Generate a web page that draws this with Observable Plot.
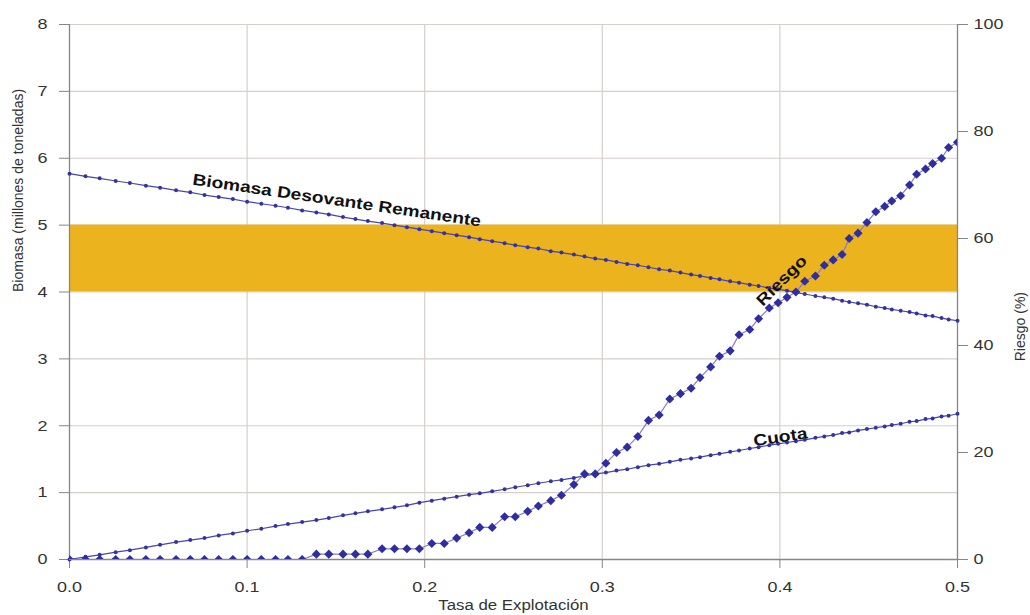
<!DOCTYPE html>
<html>
<head>
<meta charset="utf-8">
<script src="https://cdn.jsdelivr.net/npm/d3@7"></script>
<script src="https://cdn.jsdelivr.net/npm/@observablehq/plot@0.6"></script>
<style>
html, body { margin: 0; padding: 0; background: #ffffff; }
#chart { width: 1030px; height: 615px; }
</style>
</head>
<body>
<div id="chart"></div>
<script>
// Tasa de explotación (eje X)
const tasa = [0, 0.009, 0.017, 0.026, 0.034, 0.043, 0.051, 0.060, 0.068, 0.076,
  0.084, 0.092, 0.100, 0.108, 0.116, 0.123, 0.131, 0.139, 0.146, 0.154,
  0.161, 0.168, 0.176, 0.183, 0.190, 0.197, 0.204, 0.211, 0.218, 0.225,
  0.231, 0.238, 0.245, 0.251, 0.258, 0.264, 0.271, 0.277, 0.284, 0.290,
  0.296, 0.302, 0.308, 0.314, 0.320, 0.326, 0.332, 0.338, 0.344, 0.350,
  0.355, 0.361, 0.366, 0.372, 0.377, 0.383, 0.388, 0.394, 0.399, 0.404,
  0.409, 0.414, 0.420, 0.425, 0.430, 0.435, 0.439, 0.444, 0.449, 0.454,
  0.459, 0.463, 0.468, 0.473, 0.477, 0.482, 0.486, 0.491, 0.495, 0.500];
// Biomasa desovante remanente (millones de t)
const biomasa = [5.77, 5.73, 5.70, 5.66, 5.63, 5.59, 5.56, 5.52, 5.49, 5.45,
  5.42, 5.39, 5.35, 5.32, 5.29, 5.26, 5.22, 5.19, 5.16, 5.12,
  5.09, 5.06, 5.03, 5.00, 4.97, 4.94, 4.91, 4.88, 4.85, 4.82,
  4.79, 4.76, 4.73, 4.70, 4.67, 4.65, 4.61, 4.59, 4.56, 4.53,
  4.50, 4.48, 4.45, 4.42, 4.40, 4.37, 4.34, 4.32, 4.29, 4.26,
  4.24, 4.21, 4.19, 4.16, 4.14, 4.11, 4.09, 4.06, 4.04, 4.02,
  3.99, 3.97, 3.94, 3.92, 3.90, 3.87, 3.85, 3.83, 3.81, 3.78,
  3.76, 3.74, 3.72, 3.70, 3.68, 3.65, 3.64, 3.61, 3.59, 3.57];
// Cuota (millones de t)
const cuota = [0, 0.04, 0.07, 0.11, 0.14, 0.18, 0.22, 0.26, 0.29, 0.32,
  0.36, 0.39, 0.43, 0.46, 0.50, 0.53, 0.56, 0.59, 0.62, 0.66,
  0.69, 0.72, 0.75, 0.78, 0.81, 0.85, 0.88, 0.91, 0.94, 0.97,
  0.99, 1.02, 1.05, 1.08, 1.11, 1.14, 1.17, 1.19, 1.22, 1.25,
  1.28, 1.30, 1.33, 1.35, 1.38, 1.41, 1.43, 1.46, 1.49, 1.51,
  1.53, 1.56, 1.58, 1.61, 1.63, 1.66, 1.68, 1.71, 1.73, 1.75,
  1.77, 1.79, 1.82, 1.84, 1.86, 1.89, 1.90, 1.93, 1.95, 1.97,
  1.99, 2.01, 2.03, 2.06, 2.07, 2.10, 2.11, 2.14, 2.15, 2.18];
// Riesgo (%)
const riesgo = [0, 0, 0, 0, 0, 0, 0, 0, 0, 0,
  0, 0, 0, 0, 0, 0, 0, 1, 1, 1,
  1, 1, 2, 2, 2, 2, 3, 3, 4, 5,
  6, 6, 8, 8, 9, 10, 11, 12, 14, 16,
  16, 18, 20, 21, 23, 26, 27, 30, 31, 32,
  34, 36, 38, 39, 42, 43, 45, 47, 48, 49,
  50, 52, 53, 55, 56, 57, 60, 61, 63, 65,
  66, 67, 68, 70, 72, 73, 74, 75, 77, 78];

// Banda de referencia (millones de t)
const banda = [{ lo: 4, hi: 5 }];

// Ejes
const xDomain = [0, 0.5];
const yDomain = [0, 8];
const riesgoDomain = [0, 100];
const xTicks = [0, 0.1, 0.2, 0.3, 0.4, 0.5];
const yTicks = [0, 1, 2, 3, 4, 5, 6, 7, 8];
const riesgoTicks = [0, 20, 40, 60, 80, 100];

// Etiquetas de las curvas
const etiquetas = ["Biomasa Desovante Remanente", "Riesgo", "Cuota"];
const etiquetaX = [0.1505, 0.401, 0.4003];
const etiquetaY = [5.37, 4.17, 1.83];
const etiquetaAng = [8.3, -45, -8.5];

const tituloX = "Tasa de Explotación";
const tituloY = "Biomasa (millones de toneladas)";
const tituloY2 = "Riesgo (%)";

const k = yDomain[1] / riesgoDomain[1];
const rows = tasa.map((t, i) => ({ t, b: biomasa[i], c: cuota[i], r: riesgo[i] * k }));
const labelRows = etiquetas.map((s, i) => ({ s, x: etiquetaX[i], y: etiquetaY[i], a: etiquetaAng[i] }));

const font = "'Liberation Sans', Arial, Helvetica, sans-serif";
const gridColor = "#d6cfcc";
const axisColor = "#8a8585";
const textColor = "#333333";
const blue = "#3232a4";

const plot = Plot.plot({
  width: 1030,
  height: 615,
  marginLeft: 69,
  marginRight: 73,
  marginTop: 24,
  marginBottom: 56,
  style: { fontFamily: font, background: "#ffffff", color: textColor },
  x: { domain: xDomain },
  y: { domain: yDomain },
  marks: [
    Plot.gridX(xTicks.slice(1, -1), { stroke: gridColor, strokeOpacity: 1, strokeWidth: 1.2 }),
    Plot.gridY(yTicks.slice(1), { stroke: gridColor, strokeOpacity: 1, strokeWidth: 1.2 }),
    Plot.rect(banda, { y1: "lo", y2: "hi", fill: "#ebb31d" }),
    Plot.ruleX(xDomain, { stroke: axisColor, strokeWidth: 1.3 }),
    Plot.ruleY([yDomain[0]], { stroke: axisColor, strokeWidth: 1.3 }),
    Plot.axisX(xTicks, { tickSize: 9, tickPadding: 13, tickFormat: d3.format(".1f"), fontSize: 15, stroke: axisColor, fill: textColor, label: null }),
    Plot.axisY(yTicks, { anchor: "left", tickSize: 10, tickPadding: 12, tickFormat: d3.format("d"), fontSize: 15, stroke: axisColor, fill: textColor, label: null }),
    Plot.axisY(riesgoTicks.map(v => v * k), { anchor: "right", tickSize: 10, tickPadding: 6, fontSize: 15, stroke: axisColor, fill: textColor, tickFormat: d => Math.round(d / k), label: null }),
    // Biomasa
    Plot.line(rows, { x: "t", y: "b", stroke: "#4a44b0", strokeWidth: 1.2 }),
    Plot.dot(rows, { x: "t", y: "b", r: 2, fill: blue, stroke: null }),
    // Cuota
    Plot.line(rows, { x: "t", y: "c", stroke: "#4a44b0", strokeWidth: 1.2 }),
    Plot.dot(rows, { x: "t", y: "c", r: 2, fill: blue, stroke: null }),
    // Riesgo
    Plot.line(rows, { x: "t", y: "r", stroke: "#8a7cc6", strokeWidth: 1.2 }),
    Plot.dot(rows, { x: "t", y: "r", symbol: "diamond2", r: 4.1, fill: "#2e2ea2", stroke: null, clip: true }),
    // Etiquetas
    Plot.text(labelRows, { x: "x", y: "y", text: "s", rotate: "a", fontSize: 16, fontWeight: "bold", fill: "#111111" }),
    // Títulos de ejes
    Plot.text([tituloX], { frameAnchor: "bottom", dy: 50, fontSize: 14, fill: textColor }),
    Plot.text([tituloY], { frameAnchor: "left", dx: -51, rotate: -90, fontSize: 14, fill: textColor }),
    Plot.text([tituloY2], { frameAnchor: "right", dx: 63, rotate: -90, fontSize: 14, fill: textColor })
  ]
});

document.getElementById("chart").appendChild(plot);

// Ensanchar horizontalmente el texto (la figura original está estirada en horizontal)
const noStretch = new Set([tituloY, tituloY2]);
d3.select(plot).selectAll("text").each(function () {
  const t = this.textContent;
  if (noStretch.has(t)) return;
  const len = this.getComputedTextLength();
  if (len > 0) {
    this.setAttribute("textLength", (len * 1.2).toFixed(1));
    this.setAttribute("lengthAdjust", "spacingAndGlyphs");
  }
});
</script>
</body>
</html>
